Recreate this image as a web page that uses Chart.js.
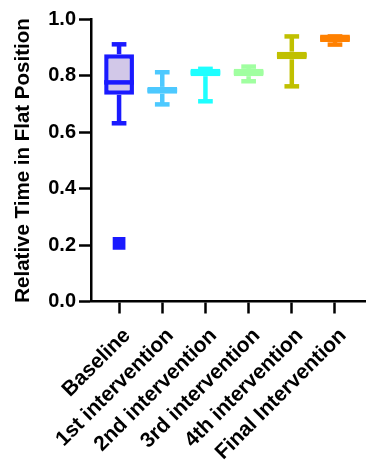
<!DOCTYPE html>
<html><head><meta charset="utf-8">
<script src="https://cdn.jsdelivr.net/npm/chart.js@4"></script>
<style>html,body{margin:0;padding:0;background:#fff;}#wrap{width:374px;height:460px;position:relative;}</style>
</head><body><div id="wrap"><canvas id="c"></canvas></div>
<script>
const categories = ['Baseline','1st intervention','2nd intervention','3rd intervention','4th intervention','Final Intervention'];
const whiskerMin = [0.632, 0.699, 0.710, 0.781, 0.763, 0.911];
const q1Values   = [0.733, 0.737, 0.799, 0.799, 0.859, 0.920];
const medians    = [0.777, 0.749, 0.812, 0.812, 0.873, 0.933];
const q3Values   = [0.877, 0.761, 0.825, 0.825, 0.886, 0.947];
const whiskerMax = [0.912, 0.813, 0.825, 0.833, 0.940, 0.940];
const outlierCategory = [0];
const outlierValues = [0.206];
const yTickValues = [0, 0.2, 0.4, 0.6, 0.8, 1.0];

const lineColors = ['#1a1aff','#4dc9ff','#1effff','#a0ffa0','#c0c000','#ff8000'];
const fillColors = ['#d2c8e8','#4dc9ff','#1effff','#a0ffa0','#c0c000','#ff8000'];

Chart.defaults.font.family = "'Liberation Sans', Arial, sans-serif";
Chart.defaults.font.weight = 'bold';
Chart.defaults.font.size = 20;
Chart.defaults.color = '#000';

const LW = 4.5;
const whiskerPlugin = {
  id: 'whiskers',
  afterDatasetsDraw(chart) {
    const {ctx, scales: {x, y}} = chart;
    ctx.save();
    ctx.lineWidth = LW;
    ctx.lineCap = 'butt';
    const seg = (x1, y1, x2, y2) => { ctx.beginPath(); ctx.moveTo(x1, y1); ctx.lineTo(x2, y2); ctx.stroke(); };
    categories.forEach((c, i) => {
      ctx.strokeStyle = lineColors[i];
      const cx = x.getPixelForValue(i);
      const cl = x.getPixelForValue(i - 0.17), cr = x.getPixelForValue(i + 0.17);
      const bl = x.getPixelForValue(i - 0.345), br = x.getPixelForValue(i + 0.345);
      const yMax = y.getPixelForValue(whiskerMax[i]), yMin = y.getPixelForValue(whiskerMin[i]);
      const yq1 = y.getPixelForValue(q1Values[i]), yq3 = y.getPixelForValue(q3Values[i]);
      if (yMax < yq3) seg(cx, yq3, cx, yMax);
      if (yMin > yq1) seg(cx, yq1, cx, yMin);
      seg(cl, yMax, cr, yMax);
      seg(cl, yMin, cr, yMin);
      seg(bl, y.getPixelForValue(medians[i]), br, y.getPixelForValue(medians[i]));
    });
    ctx.restore();
  }
};

new Chart(document.getElementById('c'), {
  type: 'bar',
  data: {
    datasets: [
      {
        type: 'bar',
        data: categories.map((c, i) => ({x: i, y: [q1Values[i], q3Values[i]]})),
        backgroundColor: fillColors,
        borderColor: lineColors,
        borderWidth: LW,
        borderSkipped: false,
        barPercentage: 0.69,
        categoryPercentage: 1,
        order: 2
      },
      {
        type: 'scatter',
        data: outlierValues.map((v, k) => ({x: outlierCategory[k], y: v})),
        pointStyle: 'rect',
        pointRadius: 9,
        backgroundColor: lineColors[0],
        borderColor: lineColors[0],
        borderWidth: 0,
        order: 1
      }
    ]
  },
  options: {
    responsive: true,
    maintainAspectRatio: false,
    animation: false,
    layout: {padding: {top: 19.5, right: 0, bottom: 0, left: 0}},
    plugins: {legend: {display: false}, tooltip: {enabled: false}},
    scales: {
      x: {
        type: 'linear',
        offset: false,
        min: -0.65,
        max: 5.695,
        afterBuildTicks(s) { s.ticks = categories.map((c, i) => ({value: i})); },
        afterFit(s) { s.height = 158.5; s.paddingLeft = 0; s.paddingRight = 0; },
        ticks: {
          autoSkip: false,
          maxRotation: 45, minRotation: 45,
          padding: 10,
          labelOffset: 8,
          color: '#000',
          font: {size: 21, weight: 'bold'},
          callback: (v) => categories[v]
        },
        grid: {offset: false, drawOnChartArea: false, drawTicks: true, tickLength: 12, tickWidth: 2.5, tickColor: '#000'},
        border: {display: true, color: '#000', width: 2.5}
      },
      y: {
        min: 0, max: 1,
        afterBuildTicks(s) { s.ticks = yTickValues.map(v => ({value: v})); },
        afterFit(s) { s.width = 91; s.paddingTop = 0; s.paddingBottom = 0; },
        ticks: {
          padding: 3,
          color: '#000',
          font: {size: 20, weight: 'bold'},
          callback: (v) => Number(v).toFixed(1)
        },
        grid: {offset: false, drawOnChartArea: false, drawTicks: true, tickLength: 12, tickWidth: 2.5, tickColor: '#000'},
        border: {display: true, color: '#000', width: 2.5},
        title: {
          display: true,
          text: 'Relative Time in Flat Position',
          color: '#000',
          font: {size: 20.5, weight: 'bold'},
          padding: {top: 11, bottom: 10}
        }
      }
    }
  },
  plugins: [whiskerPlugin]
});
</script>
</body></html>
